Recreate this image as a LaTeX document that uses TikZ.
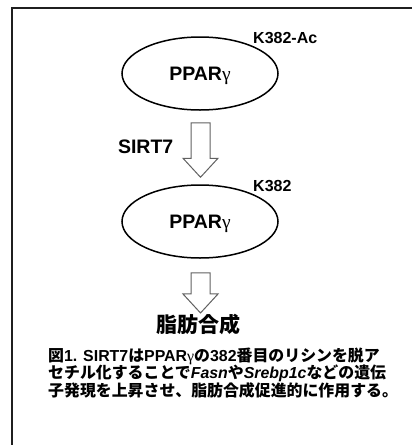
\documentclass[tikz,border=0pt]{standalone}
\usepackage{fontspec}
\setmainfont{Liberation Sans}
\newfontfamily\cjkfont{Noto Sans CJK JP}
\newfontfamily\grkfont{Liberation Serif}
\usetikzlibrary{shapes.geometric,calc}
\newcommand\jp[1]{{\cjkfont\bfseries #1}}
\newcommand\gam{{\grkfont\mdseries γ}}
\tikzset{
  prot/.style={ellipse, draw=black, line width=1.5pt, minimum width=156pt, minimum height=73pt,
    inner sep=0pt, font=\fontsize{19.5}{20}\selectfont\bfseries, text height=13.5pt, text depth=0pt},
  site/.style={font=\fontsize{16}{17}\selectfont\bfseries, inner sep=0pt, anchor=base west},
  lbl/.style={font=\fontsize{19.5}{20}\selectfont\bfseries, inner sep=0pt},
  capline/.style={font=\fontsize{15.9}{17}\selectfont\bfseries, inner sep=0pt, anchor=base west},
  barrow/.style={draw=black!62, line width=1pt, fill=white, line join=miter},
  frameline/.style={draw=black!88, line width=1.4pt}
}
\newcommand\blockarr[2]{%
  \path[barrow] let \p1=(#1), \p2=(#2) in
    (\x1-9.5pt,\y1) -- (\x1+9.5pt,\y1) -- (\x1+9.5pt,\y2+19pt) -- (\x1+17.5pt,\y2+19pt)
    -- (\x1,\y2) -- (\x1-17.5pt,\y2+19pt) -- (\x1-9.5pt,\y2+19pt) -- cycle;}
\begin{document}
\begin{tikzpicture}[x=1pt,y=-1pt]
\useasboundingbox (0,0) rectangle (412,445);
\fill[white] (0,0) rectangle (412,445);
\draw[frameline] (413,8) -- (12,8) -- (12,446);

\node[prot] (e1) at (200,73.5) {PPAR\gam};
\node[site] (k1) at (253,43.5) {K382-Ac};

\node[prot] (e2) at (200,221.5) {PPAR\gam};
\node[site] (k2) at (253,191) {K382};

\node[lbl, anchor=base east] (sirt) at (173.5,153) {SIRT7};

\node[inner sep=0pt, anchor=base] (fat) at (198,332) {\fontsize{21}{22}\selectfont\jp{脂肪合成}};

\coordinate (a1s) at ($(e1.south)+(0.5,12)$);
\coordinate (a1t) at ($(e2.north)+(0.5,-7)$);
\coordinate (a2s) at ($(e2.south)+(0.5,14)$);
\coordinate (a2t) at ($(fat.north)+(2.5,-0.5)$);
\blockarr{a1s}{a1t}
\blockarr{a2s}{a2t}

\node[capline] (c1) at (48,361) {\jp{図}1. SIRT7\jp{は}PPAR\gam\jp{の}382\jp{番目のリシンを脱ア}};
\node[capline] (c2) at (48,378.5) {\jp{セチル化することで}\textit{Fasn}\jp{や}\textit{Srebp1c}\jp{などの遺伝}};
\node[capline] (c3) at (48,396) {\jp{子発現を上昇させ、脂肪合成促進的に作用する。}};
\end{tikzpicture}
\end{document}
